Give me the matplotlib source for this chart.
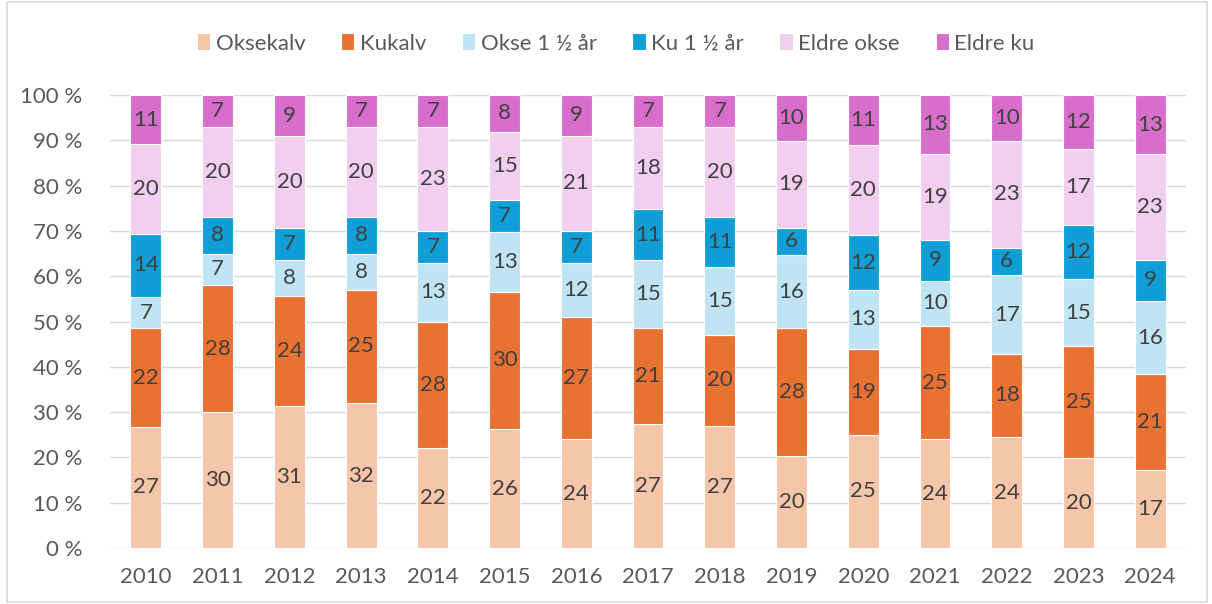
import numpy as np
import matplotlib.pyplot as plt
from matplotlib.patches import Rectangle
from matplotlib.ticker import FuncFormatter

plt.rcParams['font.family'] = ['Lato', 'DejaVu Sans']

years = [str(y) for y in range(2010, 2025)]
oksekalv = [27, 30, 31, 32, 22, 26, 24, 27, 27, 20, 25, 24, 24, 20, 17]
kukalv = [22, 28, 24, 25, 28, 30, 27, 21, 20, 28, 19, 25, 18, 25, 21]
okse_15 = [7, 7, 8, 8, 13, 13, 12, 15, 15, 16, 13, 10, 17, 15, 16]
ku_15 = [14, 8, 7, 8, 7, 7, 7, 11, 11, 6, 12, 9, 6, 12, 9]
eldre_okse = [20, 20, 20, 20, 23, 15, 21, 18, 20, 19, 20, 19, 23, 17, 23]
eldre_ku = [11, 7, 9, 7, 7, 8, 9, 7, 7, 10, 11, 13, 10, 12, 13]

names = ['Oksekalv', 'Kukalv', 'Okse 1 ½ år', 'Ku 1 ½ år', 'Eldre okse', 'Eldre ku']
colors = ['#F6C6AA', '#E97132', '#C1E4F5', '#0F9ED5', '#F2CEEF', '#D86ECC']
series = [oksekalv, kukalv, okse_15, ku_15, eldre_okse, eldre_ku]

data = np.array(series, dtype=float)
shares = data / data.sum(axis=0) * 100

fig = plt.figure(figsize=(12.12, 6.04), dpi=100)
ax = fig.add_axes([0.0908, 0.0927, 0.8878, 0.75])
fig.patches.append(Rectangle((0.006, 0.003), 0.99, 0.994, transform=fig.transFigure,
                             fill=False, edgecolor='#D9D9D9', linewidth=1.2))

x = np.arange(len(years))
bottom = np.zeros(len(years))
for name, col, vals, share in zip(names, colors, series, shares):
    ax.bar(x, share, 0.43, bottom=bottom, color=col, edgecolor='white',
           linewidth=0.8, label=name, zorder=3)
    for xi, b, s, v in zip(x, bottom, share, vals):
        ax.text(xi, b + s / 2, str(v), ha='center', va='center',
                fontsize=16, color='#404040', zorder=4)
    bottom += share

ax.set_xlim(-0.5, len(years) - 0.5)
ax.set_ylim(0, 100)
ax.set_yticks(np.arange(0, 101, 10))
ax.yaxis.set_major_formatter(FuncFormatter(lambda v, p: f'{v:.0f} %'))
ax.set_xticks(x)
ax.set_xticklabels(years)
ax.tick_params(axis='both', length=0, labelsize=16, labelcolor='#595959')
ax.tick_params(axis='x', pad=14)
ax.tick_params(axis='y', pad=20)
ax.grid(axis='y', color='#D9D9D9', linewidth=1, zorder=0)
for s in ax.spines.values():
    s.set_visible(False)

fig.legend(loc='center', bbox_to_anchor=(0.508, 0.928), ncol=6, frameon=False,
           fontsize=16, handlelength=0.6, handleheight=0.8, handletextpad=0.25,
           columnspacing=1.6, labelcolor='#595959')

fig.savefig('out.png', dpi=100)
